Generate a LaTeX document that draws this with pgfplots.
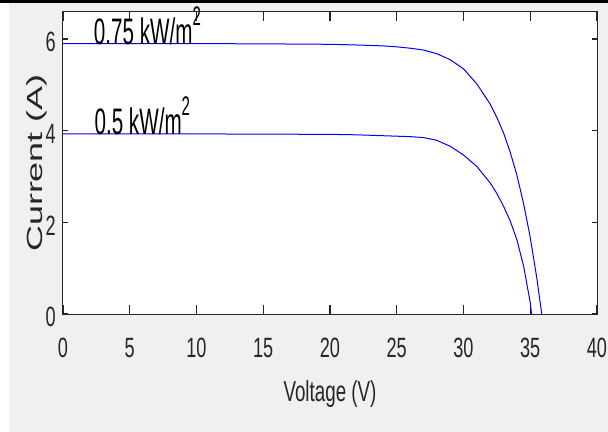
\documentclass[border=0pt]{standalone}
\usepackage{fontspec}
\setmainfont[FakeStretch=0.65]{Liberation Sans}
\newfontfamily\annfont[FakeStretch=0.56]{Liberation Sans}
\newfontfamily\ylabfont[FakeStretch=1.64]{Liberation Sans}
\usepackage{pgfplots}
\usepackage{pgfplotstable}
\pgfplotsset{compat=1.18}
\usetikzlibrary{backgrounds}

\definecolor{figgray}{RGB}{240,240,240}
\definecolor{axgray}{RGB}{38,38,38}

% I-V curves
\pgfplotstableread{
V     I
0     5.90
5     5.90
10    5.90
15    5.895
20    5.885
22    5.87
24    5.85
25    5.83
26    5.80
27    5.76
28    5.68
29    5.55
30    5.35
31    5.02
32    4.58
32.5  4.29
33    3.95
33.5  3.53
34    3.03
34.5  2.41
35    1.67
35.5  0.77
35.86 0
}\highirr

\pgfplotstableread{
V     I
0     3.93
5     3.93
10    3.93
15    3.925
20    3.92
22    3.91
24    3.89
26    3.87
27    3.85
28    3.79
29    3.66
30    3.47
31    3.22
32    2.86
32.5  2.63
33    2.35
33.5  2.03
34    1.62
34.5  1.05
35    0.25
35.1  0
}\lowirr

\begin{document}
\begin{tikzpicture}
\begin{axis}[
    name=ax, at={(0,0)}, anchor=south west,
    scale only axis, width=534bp, height=302bp,
    xmin=0, xmax=40, ymin=0, ymax=6.59,
    xtick={0,5,...,40}, ytick={0,2,4,6},
    minor tick num=0,
    tick align=inside,
    major tick length=5bp,
    xtick style={/pgfplots/major tick length=9bp},
    tick style={axgray, line width=1.1bp},
    axis line style={axgray, line width=1bp},
    axis background/.style={fill=white},
    /pgf/number format/assume math mode=true,
    ticklabel style={font=\fontsize{28}{30}\selectfont, text=axgray},
    xticklabel style={anchor=north, inner sep=0pt, yshift=-24bp},
    yticklabel style={anchor=east, inner sep=0pt, xshift=-7bp, yshift=-3bp},
    xlabel={Voltage (V)},
    xlabel style={font=\fontsize{29}{31}\selectfont, text=axgray,
        at={([yshift=-87bp]axis description cs:0.5,0)}, anchor=base},
    ylabel={Current (A)},
    ylabel style={font=\ylabfont\fontsize{22}{24}\selectfont, text=axgray,
        at={([xshift=-20bp]axis description cs:0,0.5)}, anchor=base},
    clip=false,
]
\addplot[blue, line width=1bp] table[x=V, y=I] {\highirr};
\addplot[blue, line width=1bp] table[x=V, y=I] {\lowirr};

\node[anchor=base west, inner sep=0pt, font=\annfont\fontsize{37}{40}\selectfont]
    at (axis cs:2.3,5.87) {0.75 kW/m\raisebox{19bp}{\fontsize{27}{27}\selectfont 2}};
\node[anchor=base west, inner sep=0pt, font=\annfont\fontsize{37}{40}\selectfont]
    at (axis cs:2.35,3.91) {0.5 kW/m\raisebox{19bp}{\fontsize{27}{27}\selectfont 2}};
\end{axis}

\begin{scope}[on background layer]
\fill[figgray] ([shift={(-63bp,-118bp)}]ax.south west) rectangle ([shift={(545bp,314bp)}]ax.south west);
\fill[white] ([shift={(-63bp,-118bp)}]ax.south west) rectangle ([shift={(-54bp,311bp)}]ax.south west);
\fill[black] ([shift={(-63bp,311bp)}]ax.south west) rectangle ([shift={(545bp,314bp)}]ax.south west);
\end{scope}

\pgfresetboundingbox
\useasboundingbox ([shift={(-63bp,-118bp)}]ax.south west) rectangle ([shift={(545bp,314bp)}]ax.south west);
\end{tikzpicture}
\end{document}
